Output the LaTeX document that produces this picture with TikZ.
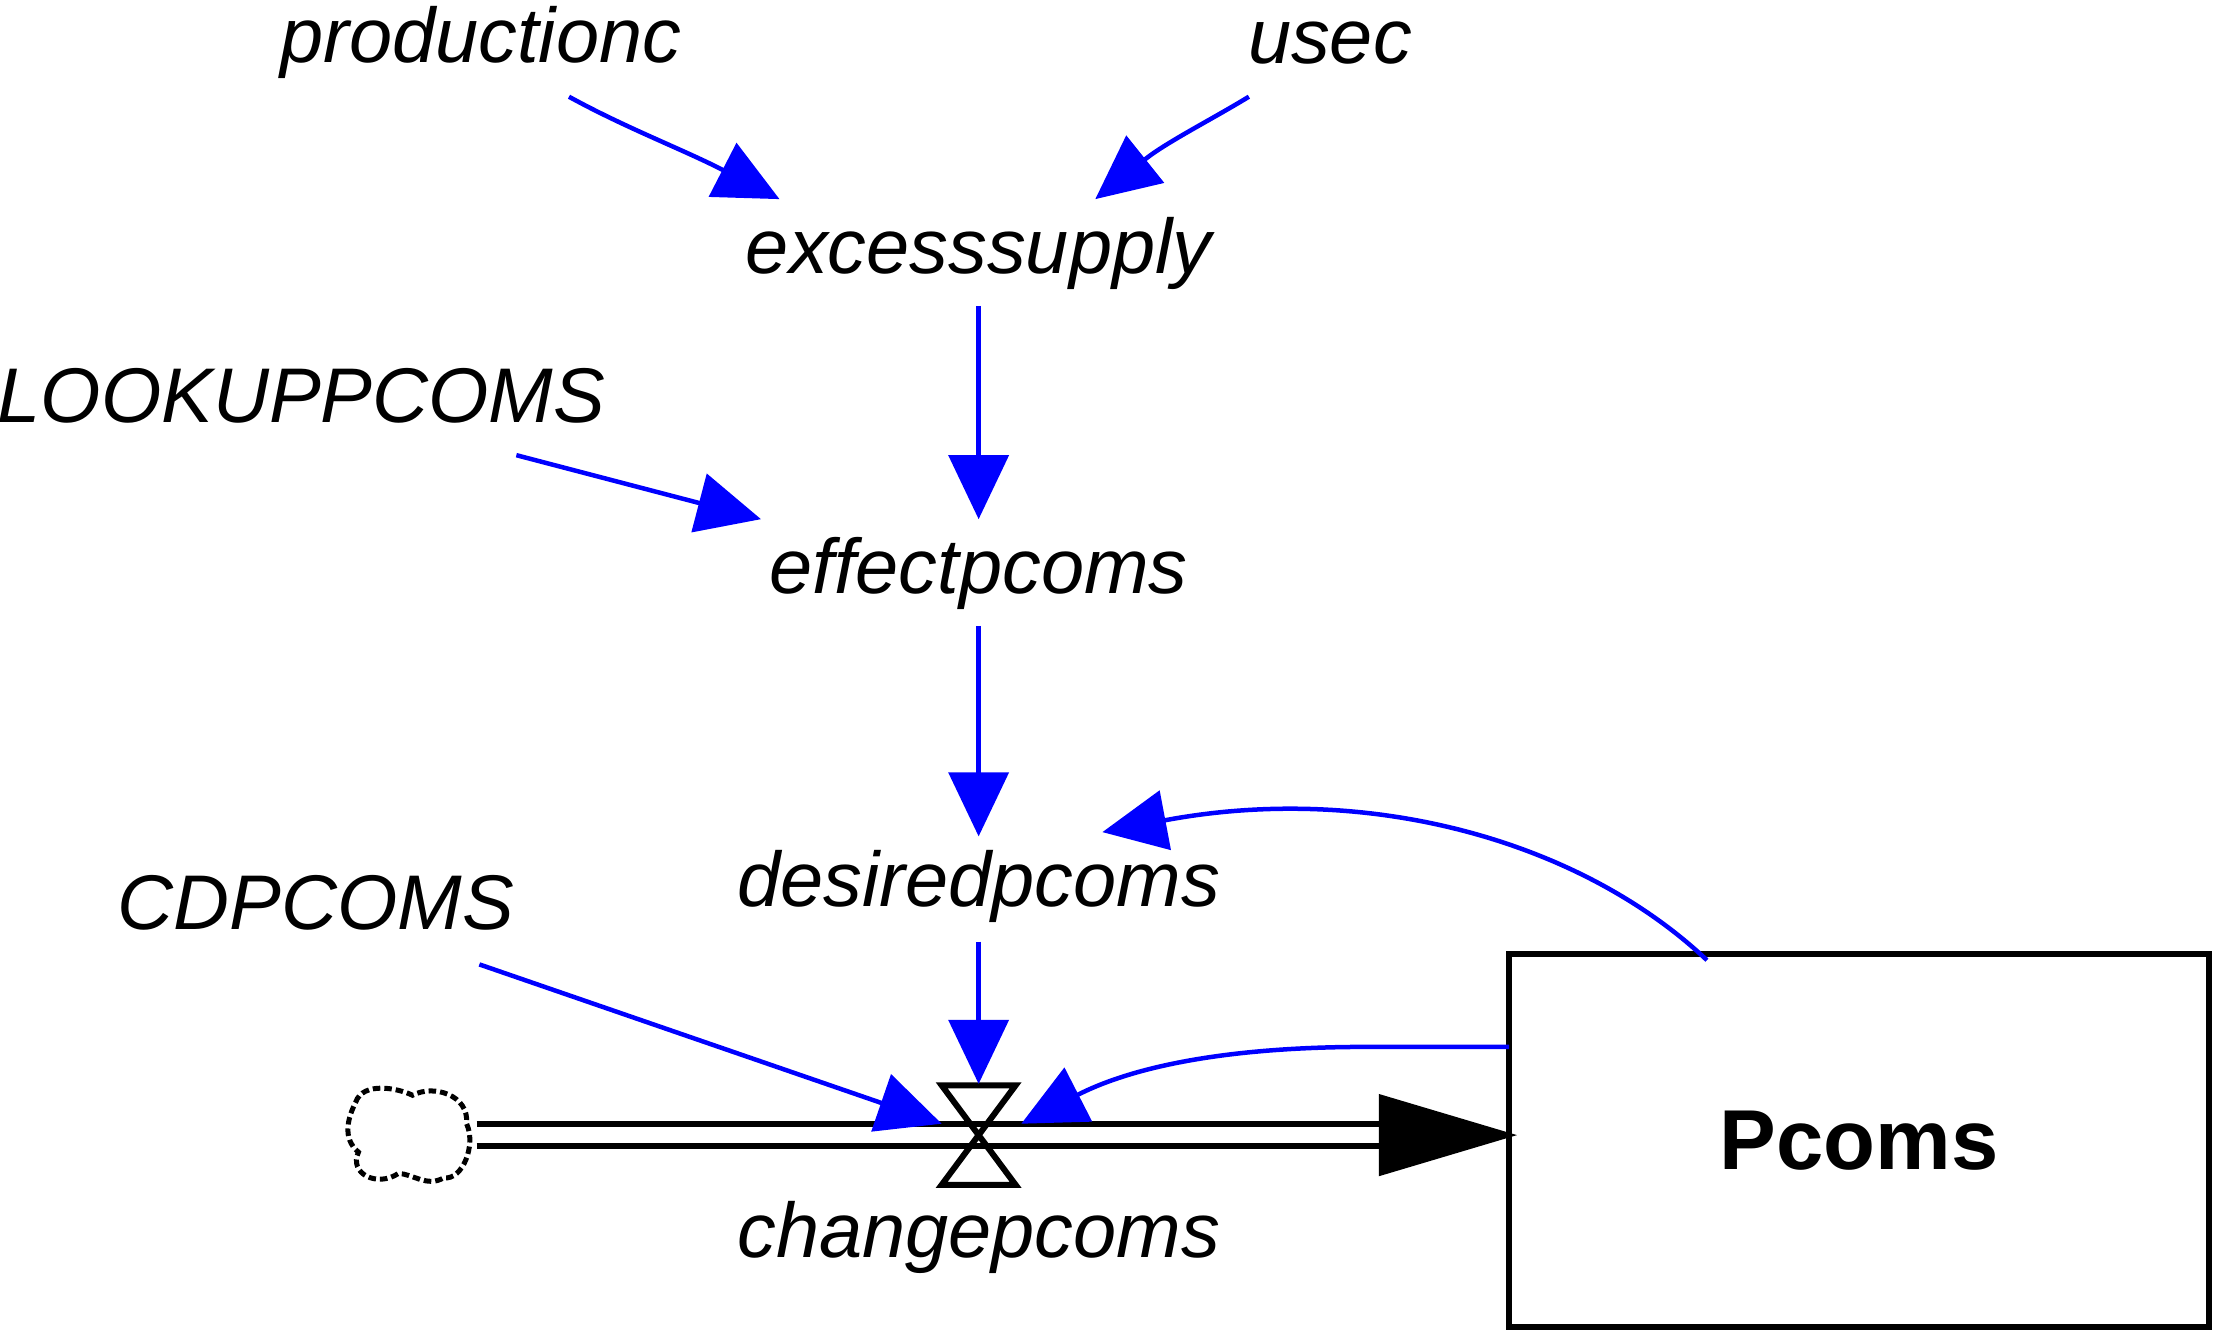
\documentclass[tikz,border=0pt]{standalone}
\usepackage{fontspec}
\setmainfont{Liberation Sans}
\usetikzlibrary{arrows.meta}
\begin{document}
\begin{tikzpicture}[x=0.01cm,y=-0.01cm,
  lab/.style={font=\fontsize{15.5}{18}\selectfont\itshape,inner sep=0pt},
  link/.style={draw=blue,line width=0.9pt,-{Triangle[length=0.45cm,width=0.42cm]}}]
\useasboundingbox (0,0) rectangle (1560,943);
\node[lab] (prod) at (338,30) {productionc};
\node[lab] (usec) at (935,30) {usec};
\node[lab] (exc) at (688,178) {excesssupply};
\node[lab] (look) at (212,278) {LOOKUPPCOMS};
\node[lab] (eff) at (688,403) {effectpcoms};
\node[lab] (cdp) at (222,635) {CDPCOMS};
\node[lab] (des) at (688,623) {desiredpcoms};
\node[lab] (chg) at (688,870) {changepcoms};
\node[draw,line width=1.2pt,minimum width=4.92cm,minimum height=2.62cm,font=\fontsize{17}{20}\selectfont\bfseries] (P) at (1307,802) {Pcoms};
% valve
\coordinate (v) at (688,798);
\draw[line width=1.2pt] (662,763) -- (714,763) -- (662,833) -- (714,833) -- cycle;
% cloud
\draw[line width=1pt,dash pattern=on 1.5pt off 0.8pt] (250,775) .. controls (255,760) and (280,765) .. (290,770) .. controls (305,762) and (330,770) .. (328,790) .. controls (335,805) and (325,830) .. (312,828) .. controls (300,835) and (290,825) .. (280,825) .. controls (265,835) and (245,825) .. (252,810) .. controls (240,800) and (245,785) .. (250,775) -- cycle;
% pipe
\coordinate (pipeS) at (335,798);
\draw[line width=1.2pt] (335,790) -- (975,790) (335,806) -- (975,806);
\draw[fill=black] (970,770) -- (1064,798) -- (970,826) -- cycle;
% links
\draw[link] (400,68) .. controls (440,90) and (480,105) .. (548,140);
\draw[link] (878,68) .. controls (850,85) and (820,100) .. (770,140);
\draw[link] (688,215) -- (688,365);
\draw[link] (363,320) -- (535,365);
\draw[link] (688,440) -- (688,588);
\draw[link] (688,662) -- (688,762);
\draw[link] (337,678) -- (662,790);
\draw[link] (1200,675) .. controls (1110,590) and (960,550) .. (775,585);
\draw[link] (1061,736) -- (960,736) .. controls (870,736) and (800,748) .. (718,790);
\end{tikzpicture}
\end{document}
